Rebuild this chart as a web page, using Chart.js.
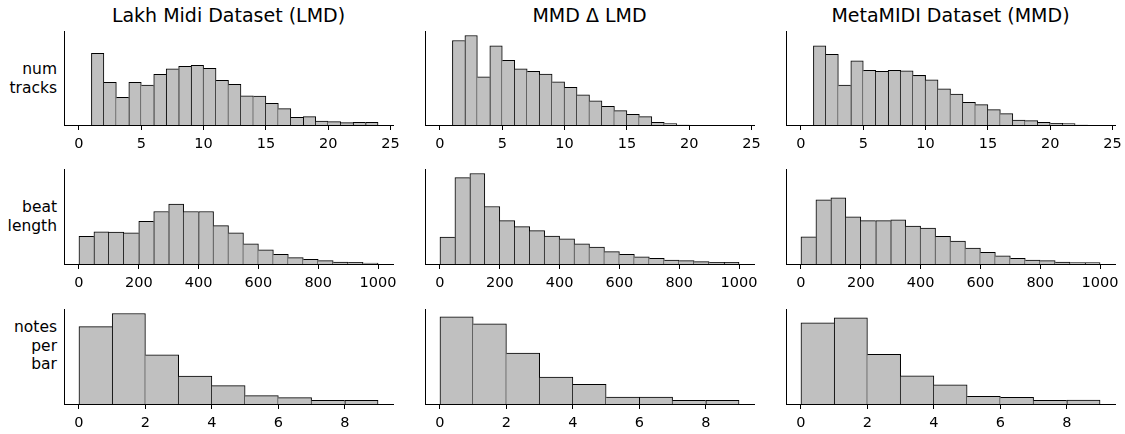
<!DOCTYPE html>
<html>
<head>
<meta charset="utf-8">
<script src="https://cdn.jsdelivr.net/npm/chart.js@4"></script>
<style>
  body { margin: 0; background: #fff; width: 1125px; height: 434px; position: relative; overflow: hidden; }
  .title { position: absolute; top: 3px; width: 329px; text-align: center; font: 19px "DejaVu Sans", sans-serif; line-height: 24px; color: #000; }
  .rowlabel { position: absolute; right: 1068px; text-align: right; font: 15.5px "DejaVu Sans", sans-serif; line-height: 18.5px; color: #000; }
  canvas { position: absolute; }
</style>
</head>
<body>
<div id="root"></div>
<script>
// column titles and row labels
const datasetNames = ["Lakh Midi Dataset (LMD)", "MMD \u0394 LMD", "MetaMIDI Dataset (MMD)"];
const featureNames = [["num", "tracks"], ["beat", "length"], ["notes", "per", "bar"]];

// bin edges (start, width, count) per feature
const numTracksEdges = { start: 0, width: 1, count: 24 };
const beatLengthEdges = { start: 0, width: 50, count: 20 };
const notesPerBarEdges = { start: 0, width: 1, count: 9 };

// tick labels per feature
const numTracksTicks = [0, 5, 10, 15, 20, 25];
const beatLengthTicks = [0, 200, 400, 600, 800, 1000];
const notesPerBarTicks = [0, 2, 4, 6, 8];

// histogram heights (relative density)
const lmdNumTracks = [0, 215, 128, 83, 128, 120, 152, 169, 176, 179, 170, 134, 122, 88, 87, 65, 49, 23, 25, 12, 10, 7, 8, 8];
const deltaNumTracks = [0, 254, 269, 145, 238, 194, 169, 161, 153, 130, 113, 91, 73, 56, 43, 32, 25, 8, 4, 0, 0, 0, 0, 0];
const mmdNumTracks = [0, 238, 212, 120, 193, 164, 161, 164, 163, 149, 136, 109, 93, 68, 61, 46, 34, 15, 13, 8, 5, 4, 0, 0];

const lmdBeatLength = [82, 96, 95, 93, 127, 156, 178, 156, 156, 114, 93, 60, 42, 29, 19, 14, 10, 6, 5, 3];
const deltaBeatLength = [80, 257, 269, 171, 129, 111, 99, 83, 75, 60, 50, 37, 29, 21, 17, 12, 10, 7, 5, 5];
const mmdBeatLength = [81, 191, 197, 140, 129, 129, 131, 113, 107, 82, 68, 47, 35, 24, 17, 12, 10, 6, 4, 4];

const lmdNotesPerBar = [231, 270, 147, 83, 55, 25, 19, 11, 11];
const deltaNotesPerBar = [260, 239, 152, 80, 59, 21, 21, 11, 11];
const mmdNotesPerBar = [242, 257, 148, 84, 57, 23, 20, 11, 12];

const rows = [
  { edges: numTracksEdges, ticks: numTracksTicks, series: [lmdNumTracks, deltaNumTracks, mmdNumTracks] },
  { edges: beatLengthEdges, ticks: beatLengthTicks, series: [lmdBeatLength, deltaBeatLength, mmdBeatLength] },
  { edges: notesPerBarEdges, ticks: notesPerBarTicks, series: [lmdNotesPerBar, deltaNotesPerBar, mmdNotesPerBar] },
];

// layout of the axes boxes
const colLeft = [64, 425, 786];
const axWidth = 329;
const rowTop = [31, 169, 309];
const rowHeight = [94, 95, 95];
const rowLabelTop = [60, 198, 318];
const PAD_L = 16, PAD_R = 16, PAD_T = 6, XAXIS_H = 32;

const root = document.getElementById("root");

datasetNames.forEach((name, c) => {
  const d = document.createElement("div");
  d.className = "title";
  d.style.left = colLeft[c] + "px";
  d.textContent = name;
  root.appendChild(d);
});

featureNames.forEach((lines, r) => {
  const d = document.createElement("div");
  d.className = "rowlabel";
  d.style.top = rowLabelTop[r] + "px";
  d.innerHTML = lines.join("<br>");
  root.appendChild(d);
});

// one border per bin boundary, drawn by the taller neighbour
function edgeWidths(ctx) {
  const data = ctx.dataset.data;
  const i = ctx.dataIndex;
  const v = data[i].y;
  const prev = i > 0 ? data[i - 1].y : 0;
  const next = i < data.length - 1 ? data[i + 1].y : 0;
  return { top: 1, bottom: 0, left: v >= prev ? 1 : 0, right: v > next ? 1 : 0 };
}

rows.forEach((row, r) => {
  const { start, width, count } = row.edges;
  const end = start + width * count;
  const margin = 0.05 * (end - start);
  const yMax = 1.05 * Math.max(...row.series.flat());

  row.series.forEach((values, c) => {
    const canvas = document.createElement("canvas");
    canvas.width = axWidth + PAD_L + PAD_R;
    canvas.height = rowHeight[r] + PAD_T + XAXIS_H;
    canvas.style.left = (colLeft[c] - PAD_L) + "px";
    canvas.style.top = (rowTop[r] - PAD_T) + "px";
    root.appendChild(canvas);

    const points = values.map((v, i) => ({ x: start + width * (i + 0.5), y: v }));

    new Chart(canvas.getContext("2d"), {
      type: "bar",
      data: {
        datasets: [{
          data: points,
          backgroundColor: "#c0c0c0",
          borderColor: "#000000",
          borderWidth: edgeWidths,
          borderSkipped: false,
          barPercentage: 1,
          categoryPercentage: 1,
        }],
      },
      options: {
        responsive: false,
        devicePixelRatio: 1,
        animation: false,
        layout: { padding: { left: PAD_L, right: PAD_R, top: PAD_T, bottom: 0 } },
        plugins: { legend: { display: false }, tooltip: { enabled: false } },
        scales: {
          x: {
            type: "linear",
            min: start - margin,
            max: end + margin,
            offset: false,
            afterBuildTicks: (scale) => { scale.ticks = row.ticks.map((v) => ({ value: v })); },
            afterFit: (scale) => { scale.height = XAXIS_H; },
            ticks: {
              callback: (v) => String(v),
              color: "#000",
              padding: 6,
              maxRotation: 0,
              font: { family: "DejaVu Sans", size: 14.5 },
            },
            grid: {
              display: true,
              offset: false,
              drawOnChartArea: false,
              drawTicks: true,
              tickLength: 5,
              color: "#000",
              lineWidth: 1,
            },
            border: { display: true, color: "#000", width: 1 },
          },
          y: {
            min: 0,
            max: yMax,
            ticks: { display: false },
            grid: { display: false },
            afterFit: (scale) => { scale.width = 0; },
            border: { display: true, color: "#000", width: 1 },
          },
        },
      },
    });
  });
});
</script>
</body>
</html>
